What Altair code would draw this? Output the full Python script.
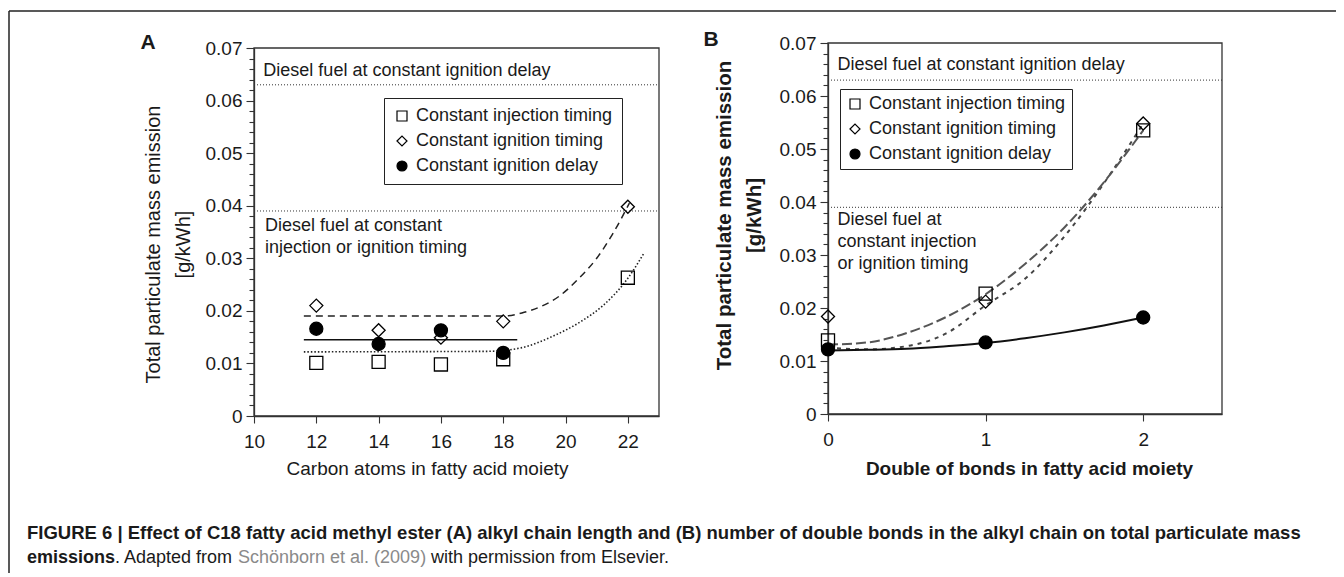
import altair as alt
import pandas as pd

FONT = "Liberation Sans"
INK = "#1a1a1a"

# ---------------- data ----------------
series_names = ["Constant injection timing", "Constant ignition timing", "Constant ignition delay"]
series_shapes = ["square", "diamond", "circle"]
series_fills = ["transparent", "transparent", "black"]
series_strokes = ["black", "black", "black"]

# Panel A: carbon atoms in fatty acid moiety
carbon_inj = [12, 14, 16, 18, 22]
pm_inj_A = [0.0101, 0.0103, 0.0098, 0.0108, 0.0263]
carbon_ign = [12, 14, 16, 18, 22]
pm_ign_A = [0.0210, 0.0163, 0.0149, 0.0180, 0.0398]
carbon_del = [12, 14, 16, 18]
pm_del_A = [0.0166, 0.0137, 0.0163, 0.0120]

curveA_ign_x = [11.6, 18.0, 18.6, 19.2, 19.8, 20.4, 21.0, 21.5, 22.05]
curveA_ign_y = [0.0190, 0.0190, 0.0196, 0.0208, 0.0228, 0.0260, 0.0300, 0.0345, 0.0405]
curveA_del_x = [11.6, 18.45]
curveA_del_y = [0.0145, 0.0145]
curveA_inj_x = [11.6, 17.5, 18.6, 19.6, 20.5, 21.2, 22.0, 22.5]
curveA_inj_y = [0.0122, 0.0123, 0.0130, 0.0152, 0.0180, 0.0210, 0.0262, 0.0308]

# Panel B: double bonds in fatty acid moiety
bonds = [0, 1, 2]
pm_inj_B = [0.0139, 0.0227, 0.0535]
pm_ign_B = [0.0184, 0.0212, 0.0548]
pm_del_B = [0.0122, 0.0135, 0.0182]

curveB_x = [0, 0.25, 0.5, 0.75, 1.0, 1.25, 1.5, 1.75, 2.0]
curveB_inj_y = [0.0131, 0.0135, 0.0153, 0.0183, 0.0226, 0.0283, 0.0352, 0.0437, 0.0535]
curveB_ign_y = [0.0125, 0.0122, 0.0128, 0.0152, 0.0205, 0.0255, 0.0335, 0.0435, 0.0548]
curveB_del_y = [0.0120, 0.0121, 0.0123, 0.0128, 0.0134, 0.0143, 0.0154, 0.0167, 0.0182]

diesel_levels = [0.063, 0.039]
diesel_upper = "Diesel fuel at constant ignition delay"
diesel_lower_A = "Diesel fuel at constant\ninjection or ignition timing"
diesel_lower_B = "Diesel fuel at\nconstant injection\nor ignition timing"

y_ticks = [round(i * 0.002, 3) for i in range(36)]
xA_ticks = [10, 12, 14, 16, 18, 20, 22]
xB_ticks = [0, 1, 2]

caption_1 = ("FIGURE 6 | Effect of C18 fatty acid methyl ester (A) alkyl chain length and (B) number "
             "of double bonds in the alkyl chain on total particulate mass")
caption_2 = ["emissions", ". Adapted from", "Schönborn et al. (2009)", "with permission from Elsevier."]

# ---------------- layout ----------------
W, H = 1328, 565
MAJOR = "round(datum.value*1000) % 10 == 0"
LABEL_EXPR = MAJOR + " ? (datum.value == 0 ? '0' : format(datum.value, '.2f')) : ''"


def y_axis(offset, weight, size, tx, ty):
    return alt.Axis(
        orient="left", offset=offset, values=y_ticks, grid=False,
        labelExpr=LABEL_EXPR, labelOverlap=False, labelFont=FONT, labelFontSize=19,
        labelColor=INK, labelPadding=4,
        tickSize={"condition": {"test": MAJOR, "value": 8}, "value": 5},
        tickColor="#333", tickWidth=1.1, domainColor="#333", domainWidth=1.3,
        title=["Total particulate mass emission", "[g/kWh]"], titleFont=FONT,
        titleFontSize=size, titleFontWeight=weight, titleColor=INK, titleAngle=270,
        titleAlign="center", titleBaseline="middle", titleLineHeight=30,
        titleX=tx, titleY=ty)


def x_axis(offset, values, title, weight, size, tx, ty):
    return alt.Axis(
        orient="bottom", offset=offset, values=values, grid=False, labelFlush=False,
        labelOverlap=False, labelFont=FONT, labelFontSize=19, labelColor=INK,
        labelPadding=9, tickSize=7, tickColor="#333", tickWidth=1.1,
        domainColor="#333", domainWidth=1.3, title=title, titleFont=FONT,
        titleFontSize=size, titleFontWeight=weight, titleColor=INK,
        titleAlign="center", titleBaseline="middle", titleX=tx, titleY=ty)


def legend(lx, ly, pad):
    return alt.Legend(
        orient="none", legendX=lx, legendY=ly, direction="vertical", title=None,
        strokeColor="#222", padding=pad, labelFont=FONT, labelFontSize=18, labelLimit=0,
        labelColor=INK, labelOffset=5, rowPadding=7, symbolSize=100,
        symbolStrokeColor="black", symbolStrokeWidth=1.2, fillColor="white")


def panel(xs, ys, ax_x, ax_y, leg, xdom, pts, curves, ann):
    X = lambda f: alt.X(f, type="quantitative", scale=xs, axis=ax_x)
    Y = lambda f: alt.Y(f, type="quantitative", scale=ys, axis=ax_y)
    frame = alt.Chart(pd.DataFrame({"x0": [xdom[0]], "x1": [xdom[1]], "y0": [0.0], "y1": [0.07]})).mark_rect(
        fill="transparent", stroke="#333", strokeWidth=1.3).encode(x=X("x0"), x2="x1", y=Y("y0"), y2="y1")
    refs = alt.Chart(pd.DataFrame({"lvl": diesel_levels, "x0": xdom[0], "x1": xdom[1]})).mark_rule(
        color="#333", strokeWidth=1, strokeDash=[1, 2]).encode(y=Y("lvl"), x=X("x0"), x2="x1")
    layers = [frame, refs]
    for df, style in curves:
        layers.append(alt.Chart(df).mark_line(interpolate="monotone", **style).encode(x=X("cx"), y=Y("cy")))
    for txt, ax, ay, baseline, dy in ann:
        layers.append(alt.Chart(pd.DataFrame({"t": [txt], "ax": [ax], "ay": [ay]})).mark_text(
            align="left", baseline=baseline, dy=dy, font=FONT, fontSize=18, color=INK,
            lineBreak="\n", lineHeight=22).encode(x=X("ax"), y=Y("ay"), text="t:N"))
    layers.append(alt.Chart(pts).mark_point(filled=True, strokeWidth=1.3, size=170, opacity=1).encode(
        x=X("px"), y=Y("py"),
        shape=alt.Shape("series:N", scale=alt.Scale(domain=series_names, range=series_shapes), legend=leg),
        fill=alt.Fill("series:N", scale=alt.Scale(domain=series_names, range=series_fills), legend=leg),
        stroke=alt.Stroke("series:N", scale=alt.Scale(domain=series_names, range=series_strokes), legend=leg)))
    return alt.layer(*layers)


# ----- Panel A -----
xsA = alt.Scale(domain=[10, 23], range=[246, 651], nice=False, zero=False)
ysA = alt.Scale(domain=[0, 0.07], range=[408, 40], nice=False)
ptsA = pd.DataFrame({
    "px": carbon_inj + carbon_ign + carbon_del,
    "py": pm_inj_A + pm_ign_A + pm_del_A,
    "series": [series_names[0]] * len(carbon_inj) + [series_names[1]] * len(carbon_ign)
              + [series_names[2]] * len(carbon_del)})
curvesA = [
    (pd.DataFrame({"cx": curveA_inj_x, "cy": curveA_inj_y}), dict(color="#222", strokeWidth=1.6, strokeDash=[1.5, 2])),
    (pd.DataFrame({"cx": curveA_ign_x, "cy": curveA_ign_y}), dict(color="#222", strokeWidth=1.5, strokeDash=[7, 5])),
    (pd.DataFrame({"cx": curveA_del_x, "cy": curveA_del_y}), dict(color="#111", strokeWidth=1.5)),
]
annA = [(diesel_upper, 10.3, diesel_levels[0], "bottom", -5),
        (diesel_lower_A, 10.35, diesel_levels[1], "top", 6)]
panelA = panel(xsA, ysA,
               x_axis(408 - H, xA_ticks, "Carbon atoms in fatty acid moiety", "normal", 19, 419, 52),
               y_axis(-246, "normal", 20, -101, 236),
               legend(376, 90, 9), [10, 23], ptsA, curvesA, annA)

# ----- Panel B -----
xsB = alt.Scale(domain=[0, 2.5], range=[820, 1214], nice=False, zero=False)
ysB = alt.Scale(domain=[0, 0.07], range=[406, 35], nice=False)
ptsB = pd.DataFrame({
    "px": bonds * 3,
    "py": pm_inj_B + pm_ign_B + pm_del_B,
    "series": [series_names[0]] * 3 + [series_names[1]] * 3 + [series_names[2]] * 3})
curvesB = [
    (pd.DataFrame({"cx": curveB_x, "cy": curveB_ign_y}), dict(color="#444", strokeWidth=2, strokeDash=[4, 5])),
    (pd.DataFrame({"cx": curveB_x, "cy": curveB_inj_y}), dict(color="#555", strokeWidth=2, strokeDash=[10, 4])),
    (pd.DataFrame({"cx": curveB_x, "cy": curveB_del_y}), dict(color="#111", strokeWidth=2)),
]
annB = [(diesel_upper, 0.06, diesel_levels[0], "bottom", -6),
        (diesel_lower_B, 0.06, diesel_levels[1], "top", 4)]
panelB = panel(xsB, ysB,
               x_axis(406 - H, xB_ticks, "Double of bonds in fatty acid moiety", "bold", 19, 1021, 54),
               y_axis(-820, "bold", 20.5, -104, 207),
               legend(832, 81, 6), [0, 2.5], ptsB, curvesB, annB)

# ----- decoration: figure frame, panel letters, caption -----
one = pd.DataFrame({"k": [0]})
frame_top = alt.Chart(one).mark_rule(color="#222", strokeWidth=1.5).encode(
    x=alt.value(1), x2=alt.value(W), y=alt.value(3))
frame_left = alt.Chart(one).mark_rule(color="#222", strokeWidth=1.5).encode(
    x=alt.value(1), y=alt.value(3), y2=alt.value(H))
letters = [
    alt.Chart(pd.DataFrame({"t": ["A"]})).mark_text(font=FONT, fontSize=21, fontWeight="bold", color=INK).encode(
        x=alt.value(140), y=alt.value(35), text="t:N"),
    alt.Chart(pd.DataFrame({"t": ["B"]})).mark_text(font=FONT, fontSize=21, fontWeight="bold", color=INK).encode(
        x=alt.value(703), y=alt.value(32), text="t:N"),
]
cap = [alt.Chart(pd.DataFrame({"t": [caption_1]})).mark_text(
    font=FONT, fontSize=18.5, fontWeight="bold", color=INK, align="left", baseline="middle").encode(
    x=alt.value(19), y=alt.value(525), text="t:N")]
seg_x = [19, 107, 230, 423]
seg_w = ["bold", "normal", "normal", "normal"]
seg_c = [INK, INK, "#8a8a8a", INK]
for t, sx, w, c in zip(caption_2, seg_x, seg_w, seg_c):
    cap.append(alt.Chart(pd.DataFrame({"t": [t]})).mark_text(
        font=FONT, fontSize=18, fontWeight=w, color=c, align="left", baseline="middle").encode(
        x=alt.value(sx), y=alt.value(550), text="t:N"))

chart = alt.layer(panelA, panelB, frame_top, frame_left, *letters, *cap).resolve_scale(
    x="independent", y="independent", shape="independent", fill="independent", stroke="independent"
).properties(
    width=W, height=H, padding=0, autosize=alt.AutoSizeParams(type="none")
).configure_view(stroke=None)

chart.save("out.html", embed_options={"renderer": "svg", "actions": False})
